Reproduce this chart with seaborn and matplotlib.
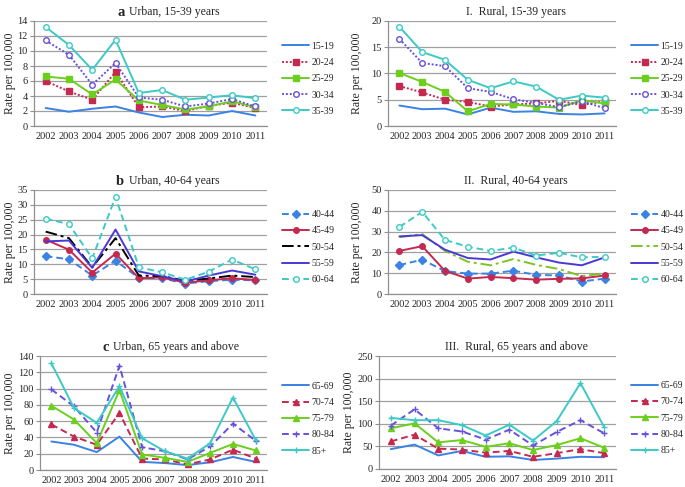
import matplotlib
matplotlib.use("Agg")
import matplotlib.pyplot as plt
import seaborn as sns
from matplotlib.ticker import MultipleLocator, FixedLocator

YEARS = [2002, 2003, 2004, 2005, 2006, 2007, 2008, 2009, 2010, 2011]

# a. Urban, 15-39 years
urban_15_39 = {
    "15-19": [2.4, 1.9, 2.3, 2.6, 1.8, 1.2, 1.5, 1.4, 2.0, 1.4],
    "20-24": [6.0, 4.6, 3.5, 7.2, 2.5, 2.6, 2.0, 2.7, 3.1, 2.4],
    "25-29": [6.6, 6.3, 4.2, 6.2, 3.4, 2.8, 2.2, 2.6, 3.3, 2.5],
    "30-34": [11.4, 9.5, 5.5, 8.4, 3.8, 3.5, 2.6, 3.0, 3.6, 2.6],
    "35-39": [13.2, 10.8, 7.5, 11.5, 4.4, 4.8, 3.5, 3.8, 4.1, 3.7],
}
# I. Rural, 15-39 years
rural_15_39 = {
    "15-19": [3.9, 3.2, 3.3, 2.2, 3.5, 2.7, 2.8, 2.3, 2.2, 2.4],
    "20-24": [7.6, 6.4, 5.0, 4.6, 3.7, 4.1, 4.3, 4.8, 4.0, 4.7],
    "25-29": [10.1, 8.4, 6.5, 2.8, 4.2, 4.1, 3.7, 3.5, 4.9, 4.3],
    "30-34": [16.6, 12.0, 11.4, 7.2, 6.5, 5.1, 4.4, 3.6, 4.7, 3.4],
    "35-39": [18.9, 14.1, 12.6, 8.8, 7.2, 8.5, 7.5, 5.0, 5.8, 5.4],
}
# b. Urban, 40-64 years
urban_40_64 = {
    "40-44": [12.7, 11.7, 6.2, 11.2, 5.4, 5.3, 3.5, 4.3, 4.8, 4.6],
    "45-49": [18.3, 14.9, 7.2, 13.6, 5.3, 5.6, 3.8, 4.6, 5.3, 4.7],
    "50-54": [21.0, 18.8, 9.0, 18.8, 6.2, 6.0, 4.5, 5.2, 6.2, 5.7],
    "55-59": [17.7, 18.0, 8.8, 21.7, 7.6, 6.0, 4.2, 6.2, 7.9, 6.5],
    "60-64": [25.4, 23.5, 12.0, 32.7, 9.0, 7.3, 4.8, 7.5, 11.6, 8.3],
}
# II. Rural, 40-64 years
rural_40_64 = {
    "40-44": [13.9, 16.5, 11.0, 9.8, 9.8, 11.2, 9.2, 8.9, 6.0, 7.4],
    "45-49": [20.7, 23.0, 11.1, 7.4, 8.2, 7.6, 6.9, 7.3, 7.5, 8.9],
    "50-54": [27.3, 28.8, 20.7, 15.5, 13.8, 16.8, 14.0, 12.0, 8.6, 9.8],
    "55-59": [27.7, 28.3, 21.3, 17.3, 16.6, 20.4, 17.6, 15.1, 13.8, 17.6],
    "60-64": [32.2, 39.5, 26.0, 22.7, 20.7, 22.3, 18.5, 19.8, 17.6, 17.9],
}
# c. Urban, 65 years and above
urban_65 = {
    "65-69": [35, 31, 22, 41, 10, 8.5, 6, 9.5, 16, 10],
    "70-74": [56, 41, 31, 70, 14, 13, 7, 13, 25, 14],
    "75-79": [79, 62, 33, 98, 19, 15, 10, 21, 32, 24],
    "80-84": [99, 78, 46, 128, 28, 23, 13, 29, 57, 36],
    "85+": [131, 76, 58, 103, 39, 23, 14, 33, 89, 37],
}
# III. Rural, 65 years and above
rural_65 = {
    "65-69": [44, 54, 30, 40, 27, 28, 20, 23, 27, 26],
    "70-74": [61, 76, 45, 43, 36, 40, 27, 35, 44, 35],
    "75-79": [90, 101, 59, 64, 49, 57, 42, 53, 68, 47],
    "80-84": [96, 132, 90, 83, 65, 87, 52, 82, 108, 79],
    "85+": [113, 108, 108, 97, 74, 98, 63, 106, 190, 93],
}

BLUE = "#3a82e4"
RED = "#c4294f"
GREEN = "#6ccf1e"
PURPLE = "#6652dc"
CYAN = "#3ccac6"
INDIGO = "#4a38d6"

DOT = (0, (1, 1))
DASH = (0, (3.5, 2))
DASHDOT = (0, (6, 2, 1.5, 2))

# (color, linestyle, marker, open marker)
STYLES = {
    "15-19": (BLUE, "-", None, False),
    "20-24": (RED, DOT, "s", False),
    "25-29": (GREEN, "-", "s", False),
    "30-34": (PURPLE, DOT, "o", True),
    "35-39": (CYAN, "-", "o", True),
    "40-44": (BLUE, DASH, "D", False),
    "45-49": (RED, "-", "o", False),
    "50-54": ("black", DASHDOT, None, False),
    "55-59": (INDIGO, "-", None, False),
    "60-64": (CYAN, DASH, "o", True),
    "65-69": (BLUE, "-", None, False),
    "70-74": (RED, DASH, "^", False),
    "75-79": (GREEN, "-", "^", False),
    "80-84": (PURPLE, DASH, "+", False),
    "85+": (CYAN, "-", "+", False),
}

PANELS = [
    (urban_15_39, "a", "Urban, 15-39 years", 14, 2),
    (rural_15_39, None, "I.  Rural, 15-39 years", 20, 5),
    (urban_40_64, "b", "Urban, 40-64 years", 35, 5),
    (rural_40_64, None, "II.  Rural, 40-64 years", 50, 10),
    (urban_65, "c", "Urban, 65 years and above", 140, 20),
    (rural_65, None, "III.  Rural, 65 years and above", 250, 50),
]

sns.set_theme(style="white")
plt.rcParams["font.family"] = ["Liberation Serif", "DejaVu Serif"]

W, H = 685, 487
fig, axes = plt.subplots(3, 2, figsize=(W / 100, H / 100), dpi=100)

# pixel boxes: (left, right, top, bottom, ylabel x) per panel
BOXES = [
    (34, 267, 21, 126, 10), (388, 616, 21, 126, 357),
    (34, 267, 190, 294, 10), (388, 616, 190, 294, 357),
    (40, 267, 356, 470, 10), (379, 616, 356, 469, 349),
]

for i, (data, letter, title, ymax, ystep) in enumerate(PANELS):
    c = i % 2
    ax = axes[i // 2][c]
    x0, x1, y0, y1, lx = BOXES[i]
    ax.set_position([x0 / W, 1 - y1 / H, (x1 - x0) / W, (y1 - y0) / H])

    for name, vals in data.items():
        color, ls, mk, hollow = STYLES[name]
        if c == 1 and name == "50-54":
            color = "#7cc424"
        kw = dict(color=color, linestyle=ls, linewidth=1.4, label=name)
        if mk:
            kw.update(marker=mk, markersize=4 if mk != "+" else 5,
                      markeredgecolor=color, markeredgewidth=1.0,
                      markerfacecolor="white" if hollow else color)
        sns.lineplot(x=YEARS, y=vals, ax=ax, **kw)

    ax.set_xlim(2001.5, 2011.5)
    ax.set_ylim(0, ymax)
    ax.yaxis.set_major_locator(MultipleLocator(ystep))
    ax.set_xticks(YEARS)
    ax.set_xticklabels([str(y) for y in YEARS])
    ax.xaxis.set_minor_locator(FixedLocator([y + 0.5 for y in range(2001, 2012)]))
    ax.tick_params(axis="x", which="major", length=0, labelsize=7.5, pad=4)
    ax.tick_params(axis="x", which="minor", length=3, color="#909090", width=0.8)
    ax.tick_params(axis="y", length=3, color="#909090", width=0.8, labelsize=7.5,
                   left=True, pad=1.5)
    ax.grid(axis="y", color="#a0a0a0", linewidth=0.9)
    ax.grid(axis="x", visible=False)
    for side in ["top", "right"]:
        ax.spines[side].set_visible(False)
    for side in ["left", "bottom"]:
        ax.spines[side].set_color("#909090")
        ax.spines[side].set_linewidth(0.9)

    ax.set_xlabel("")
    ax.set_ylabel("Rate per 100,000", fontsize=8.5, va="center")
    ax.yaxis.set_label_coords((lx - x0) / (x1 - x0), 0.5)

    tx = 0.6 if c == 0 else (516 - x0) / (x1 - x0)
    t = ax.set_title(title, fontsize=8.5, x=tx, pad=4)
    if letter:
        ax.annotate(letter, xy=(0, 0.5), xycoords=t, xytext=(-3, 0),
                    textcoords="offset points", ha="right", va="center",
                    fontsize=10.5, fontweight="bold")

    ax.legend(loc="center left", bbox_to_anchor=(1 + 15 / (x1 - x0), 0.45),
              frameon=False, fontsize=7, handlelength=2.8, handletextpad=0.25,
              labelspacing=0.75, borderaxespad=0, borderpad=0)

fig.savefig("out.png", dpi=100)
